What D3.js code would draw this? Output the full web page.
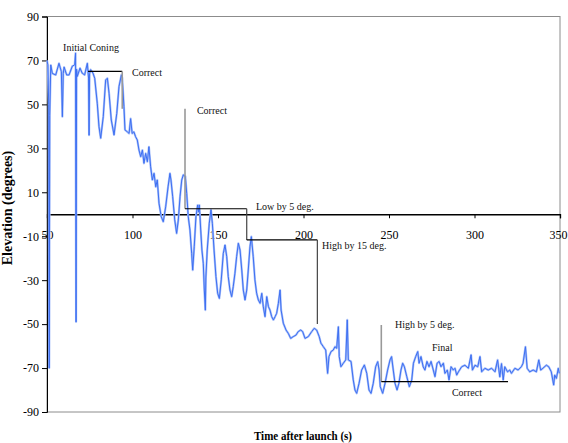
<!DOCTYPE html>
<html>
<head>
<meta charset="utf-8">
<script src="https://cdnjs.cloudflare.com/ajax/libs/d3/7.8.5/d3.min.js"></script>
<style>
  html, body { margin: 0; padding: 0; background: #fff; }
  svg { display: block; }
  text { font-family: "Liberation Serif", "Times New Roman", serif; }
</style>
</head>
<body>
<svg id="chart" width="568" height="443"></svg>
<script>
// Elevation trace: time after launch (s) and elevation (degrees)
const timeSec = [
  50, 50.5, 51.0, 51.3, 51.6, 52.2, 53.1, 55.1, 57, 58.4, 59, 59.5, 60, 61.5, 62.9, 64.8, 66.2, 66.7, 67.0, 67.3,
  67.7, 69.3, 70.6, 72, 73.6, 74.3, 74.6, 74.9, 75.5, 76.9, 77.9, 79.4, 80.4, 81.4, 82.9, 84.3, 85.3, 86.3, 87.6, 89.2,
  90.8, 92.1, 93.5, 94, 95, 95.6, 97, 98, 98.9, 99.8, 100.8, 101.8, 102.8, 103.8, 104.8, 105.8, 106.7, 107.7, 108.7, 109.6,
  110.6, 111.6, 112.6, 113.6, 114.5, 115.5, 116.8, 118, 119.4, 120.8, 121.9, 122.5, 123.5, 124.7, 125.8, 126.8, 127.8, 128.8, 129.7, 130.9,
  131.7, 132.6, 133.6, 134.6, 135.2, 136.1, 137.1, 138.1, 138.6, 139.1, 139.9, 140.6, 141.4, 142, 142.6, 142.9, 143.7, 144.9, 145.9, 146.7,
  147.7, 148.8, 149.8, 150.8, 151.9, 153.1, 154.1, 155.1, 156, 157, 158, 158.9, 159.9, 160.9, 161.9, 162.9, 163.9, 164.8, 165.8, 166.8,
  167.7, 168.7, 169.5, 170.6, 171.6, 172.6, 173.6, 174.6, 175.6, 176.5, 177.5, 178.5, 179.5, 180.4, 181.4, 182.4, 183.4, 184.3, 185.3, 186.3,
  186.9, 188.2, 189.8, 191.1, 192.5, 194, 195.6, 196.9, 198.4, 199.5, 200.9, 202.8, 204.8, 206.3, 207.7, 209.2, 210.2, 211.6, 213, 214.1,
  214.9, 216.1, 217.4, 218.4, 219.4, 220.4, 220.9, 221.9, 223.3, 224.7, 225.6, 226.2, 227.8, 229.1, 230.1, 231.1, 232.5, 234, 235.6, 237,
  238.3, 239.5, 240.8, 242.2, 243.4, 244.2, 244.9, 246.3, 247.7, 249.2, 250.6, 251.5, 252.5, 253.5, 254.7, 255.8, 257, 258, 259, 260.4,
  261.9, 263.3, 264.3, 265.6, 266.8, 267.6, 268.7, 270, 271, 272.2, 273.4, 274.6, 275.9, 276.9, 278.1, 279.3, 280.4, 281.8, 282.7, 284.1,
  285.1, 286.3, 287.6, 288.6, 289.6, 290.6, 292.5, 294.4, 296.4, 298, 298.8, 300.3, 301.9, 303.2, 304.2, 306.1, 308, 310, 312, 313.5,
  314.8, 315.8, 316.8, 317.7, 319.3, 320.6, 321.6, 323.6, 325.5, 327.4, 328.4, 329.8, 330.8, 332.3, 334.3, 336.2, 337.6, 338.7, 340, 342,
  343.4, 344.9, 346.3, 346.9, 347.9, 349, 349.6
];
const elevationDeg = [
  70, 68, 50, -70, 45, 67.9, 64.1, 63.4, 68.7, 64.9, 44.4, 64, 67, 63.4, 63.4, 67.4, 68, 73.3, -49, 66,
  62.7, 66.5, 64.2, 63.4, 68.7, 62, 36, 64, 65.8, 64.2, 61.9, 50.5, 39.9, 34.6, 44.4, 61.1, 61.9, 55, 42.9, 36.1,
  45.9, 58.1, 63.4, 62, 49, 38.4, 37.5, 36.8, 43.5, 36.8, 37.5, 35.3, 33.8, 29.2, 26.2, 29.2, 23.2, 27.7, 23.9, 30.7,
  21.6, 15.6, 18.6, 12.5, 15.6, 5, -1.1, -3.4, 3.4, 12.5, 18.6, 15.6, 8, -2.6, -8.7, -2.6, 8, 15.6, 17.9, 17.2,
  9.5, -1.1, -7.2, -17.8, -25.4, -14.8, -1.1, 4.2, 1, 4.2, -7.2, -16.3, -22.3, -34.5, -43.6, -29, -16.3, -4.1, 2, -4.1,
  -16.3, -28.4, -36, -38.3, -29.9, -17.8, -14, -19.3, -28.4, -34.5, -37.5, -33, -26.9, -19.3, -13.2, -16.3, -25.4, -34.5, -39, -34.5,
  -25.4, -14.8, -10.2, -19.3, -29.9, -36, -39, -40.5, -36, -42.1, -46.6, -37.5, -42.1, -43.6, -46.6, -48.1, -46.6, -45.1, -40.5, -34.5,
  -43.6, -49.6, -52.7, -54.2, -56.5, -55.7, -55, -53.4, -52.7, -53.4, -56.5, -55.7, -53.4, -51.9, -52.7, -55.7, -58.7, -60.3, -61.8, -72.4,
  -64.8, -62.5, -61.8, -60.3, -61, -51.2, -64.8, -69.4, -67.8, -66.3, -48.1, -66.3, -67, -75.4, -80, -81.5, -76.9, -70.9, -68.6, -72.4,
  -80, -81.5, -76.9, -69.4, -67.1, -70.9, -78.5, -81.5, -76.9, -70.9, -66.3, -64.8, -70.9, -76.9, -80, -76.9, -70.9, -67.8, -69.4, -73.9,
  -78.5, -75.4, -67.8, -64.8, -62.5, -67.8, -64.8, -69.4, -70.9, -67, -69.4, -67, -70.9, -73.9, -67.8, -67, -69.4, -67.8, -72.4, -70.9,
  -75.4, -69.4, -70.9, -70.1, -73.2, -71.7, -69.4, -68.7, -70.1, -64, -70.9, -68.7, -69.4, -64.8, -71.7, -70.1, -70.9, -70.1, -71.7, -66.3,
  -74, -68, -75.4, -69.4, -71.7, -70.9, -72.4, -70.1, -70.9, -69.4, -67.8, -60.3, -70.1, -71.7, -70.9, -71.7, -66.3, -70.9, -70.1, -68.7,
  -69.4, -71.7, -77.7, -73.2, -74.7, -70.1, -72.4
];

// Axis ticks
const xTickValues = [50, 100, 150, 200, 250, 300, 350];
const yTickValues = [90, 70, 50, 30, 10, -10, -30, -50, -70, -90];

// Step lines marking the estimate at each stage: [time, elevation] vertices
const estimateSteps = [
  { kind: "level", points: [[74, 65], [94, 65]] },
  { kind: "drop", points: [[94, 65], [94, 48]] },
  { kind: "drop", points: [[130.7, 48], [130.7, 2.5]] },
  { kind: "level", points: [[130.7, 2.5], [166.8, 2.5]] },
  { kind: "step", points: [[166.8, 2.5], [166.8, -11.7]] },
  { kind: "level", points: [[166.8, -11.7], [208.1, -11.7]] },
  { kind: "step", points: [[208.1, -11.7], [208.1, -50]] },
  { kind: "drop", points: [[245.5, -50.4], [245.5, -76.2]] },
  { kind: "level", points: [[245.5, -76.2], [319.6, -76.2]] }
];

// Text notes: label, time, elevation
const noteText = ["Initial Coning", "Correct", "Correct", "Low by 5 deg.", "High by 15 deg.", "High by 5 deg.", "Final", "Correct"];
const noteTime = [59.4, 99.7, 137.7, 172.2, 210.8, 253.5, 275.1, 286.8];
const noteElev = [75.9, 64.3, 47, 3.3, -14.4, -50.4, -60.8, -81.3];

const svg = d3.select("#chart");
const x = d3.scaleLinear().domain([50, 350]).range([47, 560]);
const y = d3.scaleLinear().domain([-90, 90]).range([412, 16.5]);
const plainNumber = d => String(d);

// Plot frame
svg.append("rect")
  .attr("x", x(50)).attr("y", y(90))
  .attr("width", x(350) - x(50)).attr("height", y(-90) - y(90))
  .attr("fill", "none").attr("stroke", "#8c8c8c").attr("stroke-width", 1);

// Y axis
const yAxis = svg.append("g")
  .attr("transform", `translate(${x(50)},0)`)
  .call(d3.axisLeft(y).tickValues(yTickValues).tickSize(5).tickPadding(3).tickFormat(plainNumber));
yAxis.select(".domain").attr("stroke", "#000");
yAxis.selectAll("text").attr("font-size", 12).attr("fill", "#000")
  .style("font-family", "'Liberation Serif', serif");

// X axis along zero elevation
const xAxis = svg.append("g")
  .attr("transform", `translate(0,${y(0)})`)
  .call(d3.axisBottom(x).tickValues(xTickValues).tickSize(4).tickPadding(12).tickFormat(plainNumber));
xAxis.select(".domain").attr("stroke", "#000").attr("stroke-width", 1.3);
xAxis.selectAll("text").attr("font-size", 12).attr("fill", "#000")
  .style("font-family", "'Liberation Serif', serif");
// keep the last label inside the page edge
xAxis.selectAll(".tick").filter(d => d === 350).select("text")
  .attr("text-anchor", "end").attr("x", 7);

// Elevation trace
const series = timeSec.map((t, i) => [t, elevationDeg[i]]);
const line = d3.line().x(d => x(d[0])).y(d => y(d[1]));
svg.append("path")
  .datum(series)
  .attr("d", line)
  .attr("fill", "none")
  .attr("stroke", "#a9c0fa")
  .attr("stroke-width", 2.2)
  .attr("stroke-linejoin", "round");
svg.append("path")
  .datum(series)
  .attr("d", line)
  .attr("fill", "none")
  .attr("stroke", "#3d6ff2")
  .attr("stroke-width", 1)
  .attr("stroke-linejoin", "round");

// Estimate steps
const stepColor = { level: "#000", drop: "#999", step: "#444" };
svg.append("g").selectAll("path")
  .data(estimateSteps)
  .join("path")
  .attr("d", d => d3.line().x(p => x(p[0])).y(p => y(p[1]))(d.points))
  .attr("fill", "none")
  .attr("stroke", d => stepColor[d.kind])
  .attr("stroke-width", d => d.kind === "drop" ? 1.6 : 1.2);

// Notes
svg.append("g").selectAll("text")
  .data(noteText)
  .join("text")
  .attr("x", (d, i) => x(noteTime[i]))
  .attr("y", (d, i) => y(noteElev[i]))
  .attr("dy", "0.35em")
  .attr("font-size", 10)
  .attr("fill", "#111")
  .text(d => d);

// Axis titles
svg.append("text")
  .attr("transform", "translate(12,208) rotate(-90)")
  .attr("text-anchor", "middle")
  .attr("font-size", 14)
  .attr("font-weight", "bold")
  .text("Elevation (degrees)");
svg.append("text")
  .attr("x", 303).attr("y", 440)
  .attr("text-anchor", "middle")
  .attr("font-size", 13)
  .attr("font-weight", "bold")
  .attr("textLength", 98)
  .attr("lengthAdjust", "spacingAndGlyphs")
  .text("Time after launch (s)");
</script>
</body>
</html>
